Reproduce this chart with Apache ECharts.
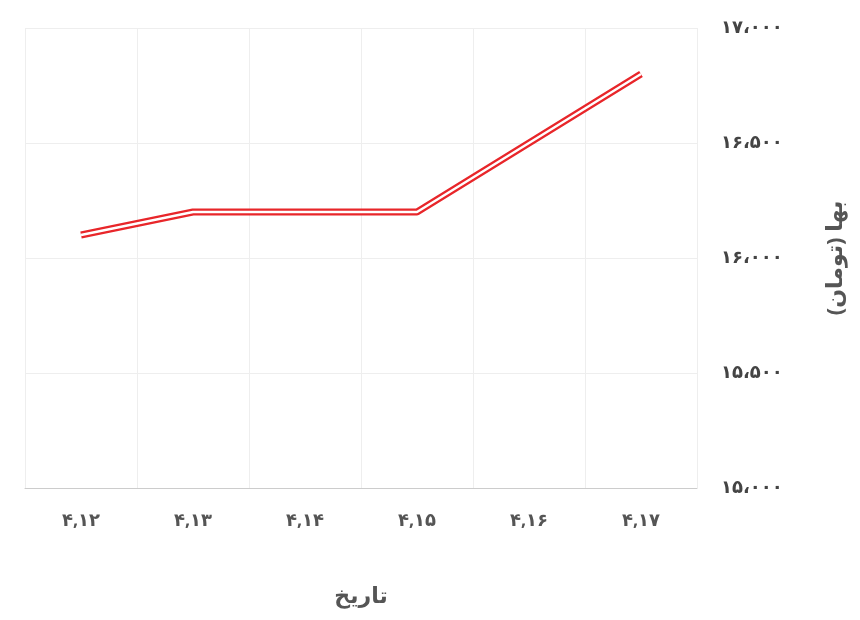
<!DOCTYPE html>
<html><head><meta charset="utf-8">
<script src="https://cdn.jsdelivr.net/npm/echarts@6/dist/echarts.min.js"></script>
<style>html,body{margin:0;background:#fff}#c{width:860px;height:620px}</style>
</head><body><div id="c"></div>
<script>
const categories = ['۴,۱۲','۴,۱۳','۴,۱۴','۴,۱۵','۴,۱۶','۴,۱۷'];
const prices = [16100,16200,16200,16200,16500,16800];
const yTicks = {min:15000,max:17000,interval:500};
const fa = n => String(n).replace(/\B(?=(\d{3})+(?!\d))/g,'،').replace(/\d/g,d=>'۰۱۲۳۴۵۶۷۸۹'[d]);
const font = "'Noto Sans', 'DejaVu Sans', sans-serif";
const chart = echarts.init(document.getElementById('c'));
chart.setOption({
  animation:false,
  grid:{left:25,right:163,top:28,bottom:132},
  xAxis:{type:'category',data:categories,boundaryGap:true,
    name:'تاریخ',nameLocation:'middle',nameGap:98,
    nameTextStyle:{fontSize:22,fontWeight:'bold',color:'#555',fontFamily:font},
    axisLine:{lineStyle:{color:'#ccc'}},axisTick:{show:false},
    splitLine:{show:true,lineStyle:{color:'#eee'}},
    axisLabel:{fontSize:18,fontWeight:'bold',color:'#555',margin:24,fontFamily:font}},
  yAxis:{type:'value',position:'right',min:yTicks.min,max:yTicks.max,interval:yTicks.interval,
    name:'بها (تومان)',nameLocation:'middle',nameGap:128,nameRotate:90,
    nameTextStyle:{fontSize:22,fontWeight:'bold',color:'#555',fontFamily:font},
    axisLine:{show:false},axisTick:{show:false},
    splitLine:{lineStyle:{color:'#eee'}},
    axisLabel:{fontSize:18,fontWeight:'bold',color:'#444',margin:24,formatter:v=>fa(v),fontFamily:font}},
  series:[
    {type:'line',data:prices,symbol:'none',lineStyle:{color:'#e8262a',width:7}},
    {type:'line',data:prices,symbol:'circle',symbolSize:1,showSymbol:true,
     itemStyle:{opacity:0},lineStyle:{color:'#fff',width:2.5},
     labelLayout:{hideOverlap:false},
     label:{show:true,position:'top',distance:28,fontSize:17,fontWeight:'bold',color:'#333',formatter:p=>fa(p.value),fontFamily:font}}
  ]
});
</script></body></html>
